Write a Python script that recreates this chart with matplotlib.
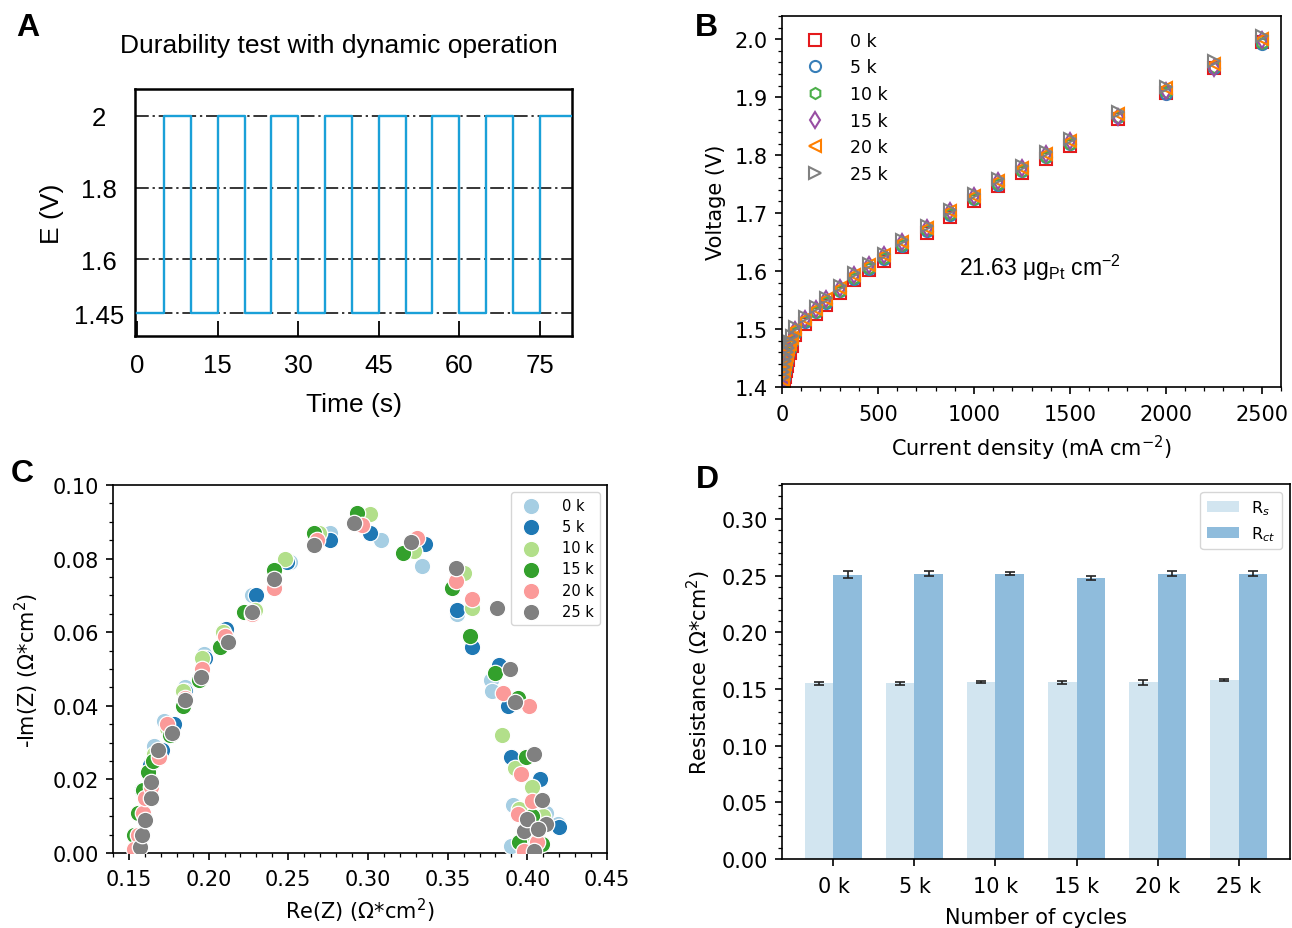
import matplotlib
matplotlib.use("Agg")
import matplotlib.pyplot as plt
from matplotlib.ticker import AutoMinorLocator, FormatStrFormatter

# ---------------- data ----------------
# Panel A: square-wave potential programme
time_s = [0, 5, 10, 15, 20, 25, 30, 35, 40, 45, 50, 55, 60, 65, 70, 75, 81]
potential_v = [1.45, 2.0, 1.45, 2.0, 1.45, 2.0, 1.45, 2.0, 1.45, 2.0,
               1.45, 2.0, 1.45, 2.0, 1.45, 2.0, 2.0]
e_ticks = [1.45, 1.6, 1.8, 2.0]
e_tick_labels = ["1.45", "1.6", "1.8", "2"]
t_ticks = [0, 15, 30, 45, 60, 75]

# Panel B: polarization curves
cycle_labels = ["0 k", "5 k", "10 k", "15 k", "20 k", "25 k"]
current_density = [3, 6, 10, 15, 20, 25, 32, 40, 50, 68, 120, 178, 230, 303,
                   376, 451, 529, 625, 754, 877, 1000, 1125, 1250, 1375, 1500,
                   1750, 2000, 2250, 2500]
v_0k = [1.401, 1.404, 1.410, 1.418, 1.427, 1.436, 1.447, 1.458, 1.471, 1.490,
        1.508, 1.526, 1.542, 1.562, 1.584, 1.601, 1.618, 1.641, 1.666, 1.694,
        1.721, 1.746, 1.769, 1.793, 1.816, 1.862, 1.907, 1.951, 1.996]
v_5k = [1.404, 1.409, 1.416, 1.426, 1.436, 1.445, 1.455, 1.465, 1.477, 1.494,
        1.512, 1.529, 1.545, 1.565, 1.587, 1.604, 1.621, 1.644, 1.669, 1.697,
        1.724, 1.749, 1.772, 1.796, 1.819, 1.865, 1.906, 1.950, 1.991]
v_10k = [1.406, 1.412, 1.420, 1.430, 1.440, 1.449, 1.458, 1.468, 1.479, 1.495,
         1.513, 1.530, 1.546, 1.566, 1.588, 1.605, 1.622, 1.645, 1.670, 1.698,
         1.725, 1.750, 1.773, 1.797, 1.820, 1.866, 1.909, 1.952, 1.993]
v_15k = [1.409, 1.416, 1.425, 1.435, 1.445, 1.453, 1.462, 1.472, 1.483, 1.499,
         1.518, 1.535, 1.551, 1.571, 1.593, 1.610, 1.627, 1.650, 1.675, 1.703,
         1.730, 1.755, 1.778, 1.802, 1.825, 1.866, 1.911, 1.950, 1.998]
v_20k = [1.412, 1.420, 1.429, 1.439, 1.448, 1.456, 1.465, 1.474, 1.485, 1.500,
         1.518, 1.535, 1.551, 1.571, 1.593, 1.610, 1.627, 1.650, 1.675, 1.703,
         1.730, 1.755, 1.778, 1.802, 1.825, 1.871, 1.915, 1.957, 2.000]
v_25k = [1.418, 1.426, 1.435, 1.444, 1.452, 1.460, 1.468, 1.477, 1.488, 1.503,
         1.521, 1.538, 1.554, 1.574, 1.596, 1.613, 1.630, 1.653, 1.678, 1.706,
         1.733, 1.758, 1.781, 1.805, 1.828, 1.874, 1.918, 1.962, 2.005]
b_markers = ["s", "o", "h", "d", "<", ">"]
b_colors = ["#e41a1c", "#377eb8", "#4daf4a", "#984ea3", "#ff7f00", "#808080"]

# Panel C: Nyquist plots
re_0k = [0.156, 0.158, 0.161, 0.166, 0.172, 0.185, 0.197, 0.209, 0.227, 0.251,
         0.276, 0.308, 0.334, 0.356, 0.377, 0.378, 0.391, 0.390, 0.412, 0.419]
im_0k = [0.002, 0.010, 0.018, 0.029, 0.036, 0.045, 0.054, 0.060, 0.070, 0.079,
         0.087, 0.085, 0.078, 0.065, 0.047, 0.044, 0.013, 0.002, 0.011, 0.008]
re_5k = [0.155, 0.158, 0.163, 0.171, 0.178, 0.185, 0.198, 0.211, 0.230, 0.249,
         0.276, 0.301, 0.336, 0.356, 0.365, 0.382, 0.388, 0.390, 0.403, 0.408,
         0.420, 0.398]
im_5k = [0.004, 0.017, 0.024, 0.028, 0.035, 0.044, 0.053, 0.061, 0.070, 0.079,
         0.085, 0.087, 0.084, 0.066, 0.056, 0.051, 0.040, 0.026, 0.010, 0.020,
         0.007, 0.001]
re_10k = [0.155, 0.159, 0.163, 0.166, 0.174, 0.184, 0.196, 0.209, 0.229, 0.248,
          0.269, 0.301, 0.329, 0.360, 0.365, 0.384, 0.392, 0.403, 0.410, 0.395,
          0.405]
im_10k = [0.003, 0.010, 0.020, 0.027, 0.034, 0.044, 0.053, 0.060, 0.066, 0.080,
          0.087, 0.092, 0.082, 0.076, 0.0665, 0.032, 0.023, 0.018, 0.010, 0.012,
          0.004]
re_15k = [0.153, 0.156, 0.159, 0.162, 0.165, 0.176, 0.184, 0.194, 0.207, 0.222,
          0.241, 0.266, 0.293, 0.322, 0.353, 0.364, 0.380, 0.394, 0.399, 0.395,
          0.409, 0.403]
im_15k = [0.005, 0.011, 0.017, 0.022, 0.025, 0.032, 0.040, 0.047, 0.056, 0.0655,
          0.077, 0.087, 0.0925, 0.0815, 0.072, 0.059, 0.049, 0.042, 0.026, 0.003,
          0.0025, 0.010]
re_20k = [0.153, 0.156, 0.159, 0.160, 0.164, 0.169, 0.174, 0.185, 0.196, 0.210,
          0.227, 0.241, 0.268, 0.296, 0.331, 0.355, 0.365, 0.385, 0.401, 0.396,
          0.403, 0.394, 0.406, 0.398]
im_20k = [0.001, 0.005, 0.011, 0.015, 0.018, 0.026, 0.035, 0.042, 0.050, 0.059,
          0.065, 0.072, 0.085, 0.089, 0.0855, 0.074, 0.069, 0.0435, 0.040, 0.0215,
          0.014, 0.0105, 0.003, 0.0005]
re_25k = [0.157, 0.158, 0.160, 0.164, 0.164, 0.168, 0.177, 0.185, 0.195, 0.212,
          0.227, 0.241, 0.266, 0.291, 0.327, 0.355, 0.381, 0.389, 0.392, 0.404,
          0.409, 0.412, 0.398, 0.400, 0.4065, 0.404]
im_25k = [0.0016, 0.005, 0.009, 0.015, 0.0194, 0.028, 0.0326, 0.0417, 0.0478,
          0.0574, 0.0656, 0.0744, 0.0837, 0.0896, 0.0845, 0.0774, 0.0665, 0.050,
          0.041, 0.027, 0.0143, 0.008, 0.006, 0.0093, 0.0065, 0.0006]
c_colors = ["#a6cee3", "#1f78b4", "#b2df8a", "#33a02c", "#fb9a99", "#808080"]

# Panel D: fitted resistances
rs_values = [0.155, 0.155, 0.156, 0.156, 0.156, 0.158]
rs_errors = [0.0015, 0.0015, 0.0010, 0.0012, 0.0020, 0.0012]
rct_values = [0.251, 0.252, 0.252, 0.248, 0.252, 0.252]
rct_errors = [0.0028, 0.0022, 0.0016, 0.0020, 0.0020, 0.0020]
d_colors = ["#d2e5f0", "#8fbcdc"]

# ---------------- figure ----------------
W, H = 1292, 929
fig = plt.figure(figsize=(W / 100, H / 100), dpi=100)
ARIAL = "Liberation Sans"


def px_axes(left, top, right, bottom):
    return fig.add_axes([left / W, 1 - bottom / H, (right - left) / W,
                         (bottom - top) / H])


def style_mpl(ax):
    for s in ax.spines.values():
        s.set_linewidth(1.2)
    ax.tick_params(which="major", length=5.25, width=1.2, labelsize=15)
    ax.tick_params(axis="x", which="major", pad=7)
    ax.tick_params(axis="y", which="major", pad=5)
    ax.tick_params(which="minor", length=3, width=0.9)


# ----- Panel A -----
axA = px_axes(135, 90, 572, 337)
axA.step(time_s, potential_v, where="post", color="#1aa0d8", lw=1.7, zorder=3)
for lvl in e_ticks:
    axA.axhline(lvl, color="k", lw=1.1, ls=(0, (9, 2.5, 1.5, 2.5)), zorder=1)
axA.set_xlim(-0.4, 81)
axA.set_ylim(1.386, 2.075)
for s in axA.spines.values():
    s.set_linewidth(1.8)
axA.set_xticks(t_ticks)
axA.set_xticklabels([str(t) for t in t_ticks], fontfamily=ARIAL, fontsize=18.5)
axA.set_yticks(e_ticks)
axA.set_yticklabels(e_tick_labels, fontfamily=ARIAL, fontsize=18.5)
axA.tick_params(axis="x", direction="in", length=11, width=1.3, pad=12)
axA.tick_params(axis="y", length=0, pad=26)
for lbl in axA.get_yticklabels():
    lbl.set_horizontalalignment("center")
axA.set_xlabel("Time (s)", fontfamily=ARIAL, fontsize=19, labelpad=11)
axA.set_ylabel("E (V)", fontfamily=ARIAL, fontsize=19, labelpad=7)
fig.text(339 / W, 1 - 46 / H, "Durability test with dynamic operation",
         ha="center", va="center", fontsize=19, fontfamily=ARIAL)

# ----- Panel B -----
axB = px_axes(782, 17, 1281, 388)
b_series = [v_0k, v_5k, v_10k, v_15k, v_20k, v_25k]
for vals, lab, mk, col in zip(b_series, cycle_labels, b_markers, b_colors):
    axB.plot(current_density, vals, linestyle="none", marker=mk, ms=8,
             mfc="none", mec=col, mew=1.5, label=lab)
axB.set_xlim(0, 2600)
axB.set_ylim(1.4, 2.04)
axB.set_xticks([0, 500, 1000, 1500, 2000, 2500])
axB.set_yticks([1.4, 1.5, 1.6, 1.7, 1.8, 1.9, 2.0])
axB.yaxis.set_major_formatter(FormatStrFormatter("%.1f"))
axB.xaxis.set_minor_locator(AutoMinorLocator())
axB.yaxis.set_minor_locator(AutoMinorLocator())
style_mpl(axB)
axB.set_xlabel("Current density (mA cm$^{-2}$)", fontsize=15, labelpad=6)
axB.set_ylabel("Voltage (V)", fontsize=15, labelpad=6)
axB.legend(loc="upper left", frameon=False, fontsize=12.5, handletextpad=1.0,
           labelspacing=0.5, borderaxespad=0.5)
axB.text(1040 / W, 1 - 268 / H,
         r"21.63 μg$_\mathregular{Pt}$ cm$^\mathregular{-2}$",
         transform=fig.transFigure, ha="center", va="center", fontsize=16.5,
         fontfamily=ARIAL)

# ----- Panel C -----
axC = px_axes(113, 486, 607, 854)
c_series = [(re_0k, im_0k), (re_5k, im_5k), (re_10k, im_10k),
            (re_15k, im_15k), (re_20k, im_20k), (re_25k, im_25k)]
for (xr, yi), lab, col in zip(c_series, cycle_labels, c_colors):
    axC.scatter(xr, yi, s=140, color=col, edgecolors="white", linewidths=0.9,
                label=lab, zorder=3)
axC.set_xlim(0.14, 0.45)
axC.set_ylim(0, 0.1)
axC.set_xticks([0.15, 0.20, 0.25, 0.30, 0.35, 0.40, 0.45])
axC.set_yticks([0.0, 0.02, 0.04, 0.06, 0.08, 0.10])
axC.xaxis.set_major_formatter(FormatStrFormatter("%.2f"))
axC.yaxis.set_major_formatter(FormatStrFormatter("%.2f"))
axC.xaxis.set_minor_locator(AutoMinorLocator())
axC.yaxis.set_minor_locator(AutoMinorLocator())
style_mpl(axC)
axC.tick_params(axis="x", which="major", pad=6)
axC.set_xlabel("Re(Z) (Ω*cm$^2$)", fontsize=15, labelpad=5)
axC.set_ylabel("-Im(Z) (Ω*cm$^2$)", fontsize=15, labelpad=8)
axC.legend(loc="upper right", fontsize=10.5, handletextpad=1.1,
           labelspacing=0.42, borderaxespad=0.5, framealpha=0.8,
           markerscale=1.0)

# ----- Panel D -----
axD = px_axes(782, 485, 1290, 860)
xpos = list(range(len(cycle_labels)))
bw = 0.35
err_kw = dict(elinewidth=1.2, capthick=1.2, ecolor="#222222")
axD.bar([x - bw / 2 for x in xpos], rs_values, bw, yerr=rs_errors, capsize=3.5,
        color=d_colors[0], error_kw=err_kw, label="R$_s$")
axD.bar([x + bw / 2 for x in xpos], rct_values, bw, yerr=rct_errors,
        capsize=3.5, color=d_colors[1], error_kw=err_kw, label="R$_{ct}$")
axD.set_ylim(0, 0.331)
axD.set_xticks(xpos)
axD.set_xticklabels(cycle_labels)
axD.set_yticks([0.0, 0.05, 0.10, 0.15, 0.20, 0.25, 0.30])
axD.yaxis.set_major_formatter(FormatStrFormatter("%.2f"))
axD.yaxis.set_minor_locator(AutoMinorLocator())
style_mpl(axD)
axD.set_xlabel("Number of cycles", fontsize=15, labelpad=8)
axD.set_ylabel("Resistance (Ω*cm$^2$)", fontsize=15, labelpad=6)
axD.legend(loc="upper right", fontsize=11.5, borderaxespad=0.5,
           labelspacing=0.45, framealpha=0.8)

# ----- Panel letters -----
for letter, (lx, ly) in zip("ABCD", [(28, 28), (706, 28), (22, 474), (707, 480)]):
    fig.text(lx / W, 1 - ly / H, letter, ha="center", va="center",
             fontsize=23, fontweight="bold", fontfamily=ARIAL)

fig.savefig("out.png", dpi=100)
